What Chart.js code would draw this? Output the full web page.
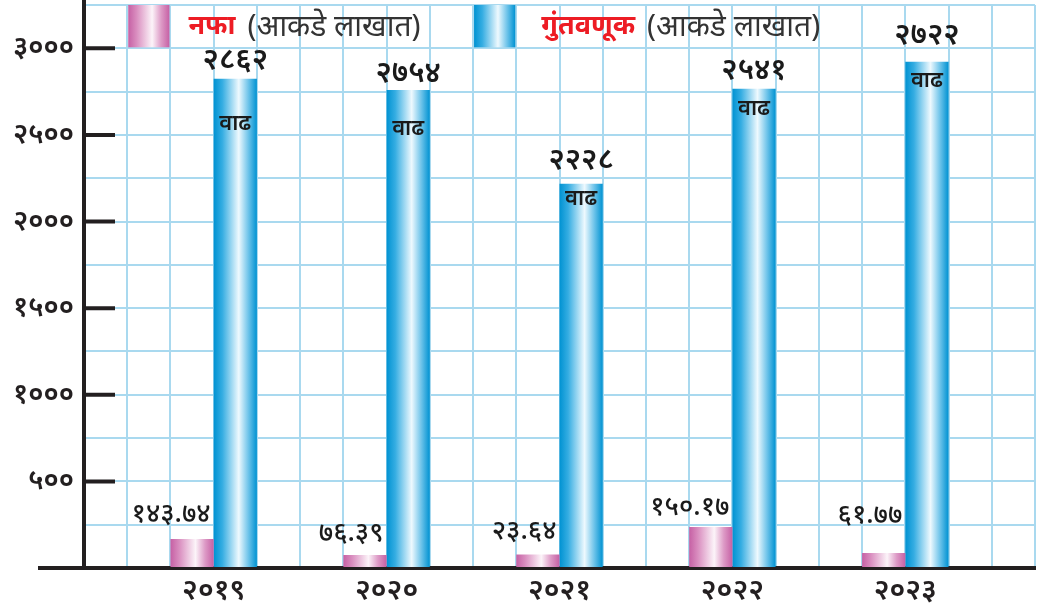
<!DOCTYPE html>
<html>
<head>
<meta charset="utf-8">
<script src="https://cdn.jsdelivr.net/npm/chart.js@4.4.1/dist/chart.umd.min.js"></script>
<style>
	html, body { margin: 0; padding: 0; background: #fff; }
	#wrap { width: 1061px; height: 606px; }
</style>
</head>
<body>
<div id="wrap"><canvas id="chart"></canvas></div>
<script>
// years on the x axis
const years = ['२०१९', '२०२०', '२०२१', '२०२२', '२०२३'];

// bar heights as drawn in the picture
const profit = [167, 75, 78, 236, 86];
const investment = [2824, 2760, 2218, 2766, 2922];

// figures printed over the bars
const profitLabels = ['१४३.७४', '७६.३९', '२३.६४', '१५०.१७', '६१.७७'];
const investmentLabels = ['२८६२', '२७५४', '२२२८', '२५४१', '२७२२'];

// y axis tick labels
const yTickValues = [500, 1000, 1500, 2000, 2500, 3000];
const yTickLabels = ['५००', '१०००', '१५००', '२०००', '२५००', '३०००'];

const FONT = "'Noto Sans', 'DejaVu Sans', sans-serif";
const GRID = '#a9d9ef';

const blueStops = [[0, '#0092d2'], [0.2, '#35ade2'], [0.58, '#eef9fe'], [0.8, '#6fc4ea'], [1, '#0092d2']];
const pinkStops = [[0, '#c660a4'], [0.2, '#d98dbf'], [0.58, '#fcf4f9'], [0.8, '#dd9ac6'], [1, '#c660a4']];

// each year sits on every 4th grid column, starting at column 3
const slot = (i) => 3 + 4 * i;

function barGradient(ctx, stops) {
	const chart = ctx.chart;
	const xs = chart.scales.x;
	if (!xs || ctx.type !== 'data' || !chart.chartArea) {
		return stops[0][1];
	}
	const c = xs.getPixelForValue(ctx.parsed.x);
	const w = xs.getPixelForValue(1) - xs.getPixelForValue(0);
	if (!isFinite(c) || !isFinite(w) || w <= 0) {
		return stops[0][1];
	}
	const left = ctx.datasetIndex === 0 ? c - w : c;
	const g = chart.ctx.createLinearGradient(left, 0, left + w, 0);
	stops.forEach(s => g.addColorStop(s[0], s[1]));
	return g;
}

function swatch(c, x, y, w, h, stops) {
	const g = c.createLinearGradient(x, 0, x + w, 0);
	stops.forEach(s => g.addColorStop(s[0], s[1]));
	c.fillStyle = g;
	c.fillRect(x, y, w, h);
}

const extras = {
	id: 'extras',
	afterDatasetsDraw(chart) {
		const c = chart.ctx;
		const area = chart.chartArea;
		const ys = chart.scales.y;
		const xs = chart.scales.x;
		c.save();

		// axis line runs a bit past the plot
		c.strokeStyle = '#231f20';
		c.lineWidth = 4;
		c.beginPath();
		c.moveTo(38, area.bottom);
		c.lineTo(area.left, area.bottom);
		c.moveTo(area.left, 0);
		c.lineTo(area.left, area.top);
		// tick marks pointing into the plot
		yTickValues.forEach(v => {
			const y = ys.getPixelForValue(v);
			c.moveTo(area.left, y);
			c.lineTo(area.left + 31, y);
		});
		c.stroke();

		// value labels
		c.fillStyle = '#1a1a1a';
		const lift = [25, 22, 23, 20, 38];
		chart.getDatasetMeta(0).data.forEach((bar, i) => {
			c.font = '500 27px ' + FONT;
			c.textAlign = 'right';
			c.textBaseline = 'middle';
			c.fillText(profitLabels[i], bar.x + bar.width / 2 - 3, bar.y - lift[i]);
		});
		const top = [18, 16, 23, 18, 26];
		const vadh = [45, 39, 15, 20, 19];
		chart.getDatasetMeta(1).data.forEach((bar, i) => {
			c.textAlign = 'center';
			c.textBaseline = 'middle';
			c.font = '600 30px ' + FONT;
			c.fillText(investmentLabels[i], bar.x, bar.y - top[i]);
			c.font = '600 22px ' + FONT;
			c.fillText('वाढ', bar.x, bar.y + vadh[i]);
		});

		// legend, sitting in the top row of the grid
		const y0 = ys.getPixelForValue(3250);
		const y1 = ys.getPixelForValue(3000);
		const cellW = xs.getPixelForValue(1) - xs.getPixelForValue(0);
		const items = [
			{col: 1, gap: 18, stops: pinkStops, name: 'नफा'},
			{col: 9, gap: 25, stops: blueStops, name: 'गुंतवणूक'}
		];
		items.forEach(it => {
			const x = xs.getPixelForValue(it.col);
			swatch(c, x + 1, y0, cellW - 2, y1 - y0 - 1, it.stops);
			let tx = x + cellW + it.gap;
			c.textAlign = 'left';
			c.textBaseline = 'middle';
			c.font = 'bold 27px ' + FONT;
			c.fillStyle = '#ed1c24';
			c.fillText(it.name, tx, 26);
			tx += c.measureText(it.name).width + 12;
			c.font = '30px ' + FONT;
			c.fillStyle = '#333333';
			c.fillText('(आकडे लाखात)', tx, 27);
		});
		c.restore();
	}
};

new Chart(document.getElementById('chart'), {
	type: 'bar',
	data: {
		datasets: [
			{
				label: 'नफा',
				data: profit.map((v, i) => ({x: slot(i), y: v})),
				backgroundColor: (ctx) => barGradient(ctx, pinkStops),
				borderWidth: 0
			},
			{
				label: 'गुंतवणूक',
				data: investment.map((v, i) => ({x: slot(i), y: v})),
				backgroundColor: (ctx) => barGradient(ctx, blueStops),
				borderWidth: 0
			}
		]
	},
	options: {
		responsive: true,
		maintainAspectRatio: false,
		animation: false,
		// the ruler is one grid column, each bar fills one column
		categoryPercentage: 2,
		barPercentage: 1,
		layout: {padding: {top: 5, right: 26, bottom: 0, left: 0}},
		plugins: {
			legend: {display: false},
			tooltip: {enabled: false}
		},
		scales: {
			x: {
				type: 'linear',
				min: 0,
				max: 22,
				offset: false,
				grid: {color: GRID, lineWidth: 2, drawTicks: false, offset: false},
				border: {color: '#231f20', width: 4},
				ticks: {
					stepSize: 1,
					autoSkip: false,
					maxRotation: 0,
					padding: 5,
					color: '#231f20',
					font: {family: FONT, size: 29, weight: '600'},
					callback: (v) => {
						const i = (v - 3) / 4;
						return Number.isInteger(i) && years[i] ? years[i] : '';
					}
				},
				afterFit: (s) => {
					s.height = 38;
					s.paddingLeft = 0;
					s.paddingRight = 0;
				}
			},
			y: {
				min: 0,
				max: 3250,
				grid: {color: GRID, lineWidth: 2, drawTicks: false},
				border: {color: '#231f20', width: 4},
				ticks: {
					stepSize: 250,
					autoSkip: false,
					padding: 10,
					color: '#231f20',
					font: {family: FONT, size: 28, weight: '600'},
					callback: (v) => {
						const i = yTickValues.indexOf(v);
						return i >= 0 ? yTickLabels[i] : '';
					}
				},
				afterFit: (s) => {
					s.width = 84;
					s.paddingTop = 0;
					s.paddingBottom = 0;
				}
			}
		}
	},
	plugins: [extras]
});
</script>
</body>
</html>
